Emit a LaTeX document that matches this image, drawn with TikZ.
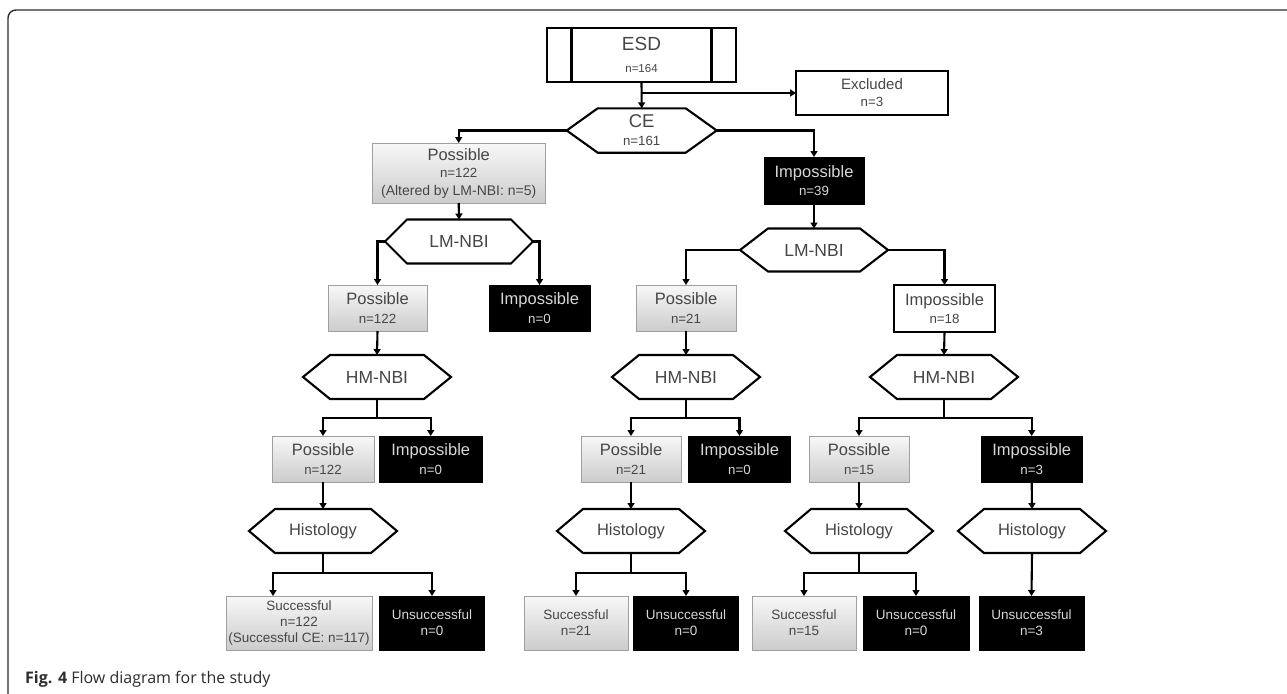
\documentclass[tikz,border=0pt]{standalone}
\usepackage{fontspec}
\setmainfont{Liberation Sans}
\newfontfamily\capfont{Open Sans}
\usetikzlibrary{arrows.meta,calc}
\definecolor{txt}{RGB}{70,70,70}
\definecolor{frm}{RGB}{45,45,45}
\definecolor{ltxt}{RGB}{215,215,215}
\tikzset{
 conn/.style={line width=2.1pt, draw=black},
 arr/.style={conn, -{Triangle[length=6pt,width=7pt]}},
 boxbase/.style={align=center, inner sep=1pt, outer sep=0pt, font=\fontsize{13.3}{18.5}\selectfont},
 graybox/.style={boxbase, draw=gray!75, line width=1pt, top color=gray!6, bottom color=gray!40, text=txt},
 blackbox/.style={boxbase, draw=black, line width=1pt, fill=black, text=ltxt},
 whitebox/.style={boxbase, draw=black, line width=2.1pt, fill=white, text=txt},
 hexbox/.style={align=center, text=txt, inner sep=0pt, outer sep=0pt, font=\fontsize{13.3}{18}\selectfont},
 hexline/.style={line width=2.1pt, draw=black},
 small/.style={font=\fontsize{13.5}{16}\selectfont},
}
\newcommand\Tl[1]{{\fontsize{16.5}{18.5}\selectfont #1}}
\newcommand\bx[6]{\node[#1, minimum width=#4pt, minimum height=#5pt] (#2) at (#3) {#6};}
\newcommand\hexnode[6]{%
 \node[hexbox, minimum width={2*#3pt}, minimum height={2*#4pt}] (#1) at (#2) {#6};
 \draw[hexline] (#1.west) -- ($(#1.north west)+(#5,0)$) -- ($(#1.north east)-(#5,0)$) -- (#1.east) -- ($(#1.south east)-(#5,0)$) -- ($(#1.south west)+(#5,0)$) -- cycle;}
\begin{document}
\begin{tikzpicture}[x=1pt,y=-1pt]
\useasboundingbox (0,0) rectangle (1287,693);
\fill[white] (0,0) rectangle (1287,693);
\draw[frm, line width=1.4pt, rounded corners=8pt] (8,700) -- (8,10) -- (1295,10);

% top
\bx{whitebox,font=\fontsize{11.5}{22}\selectfont}{esd}{641.5,55}{189}{54}{{\fontsize{19}{22}\selectfont ESD}\\n=164}
\draw[line width=2.1pt] ($(esd.north west)+(24.5,0)$) -- ($(esd.south west)+(24.5,0)$);
\draw[line width=2.1pt] ($(esd.north east)-(24.5,0)$) -- ($(esd.south east)-(24.5,0)$);
\bx{whitebox,font=\fontsize{13.3}{17}\selectfont}{excl}{872,93}{152}{44}{{\fontsize{15}{17}\selectfont Excluded}\\n=3}
\hexnode{ce}{641.7,130.5}{75}{22.2}{31}{{\fontsize{18.5}{18}\selectfont CE}\\n=161}
\coordinate (j0) at (esd.south |- excl.west);
\draw[arr] (esd.south) -- (ce.north);
\draw[arr] (j0) -- (excl.west);

% CE outcomes
\bx{graybox,font=\fontsize{13.3}{17.5}\selectfont}{p1}{458.7,173}{173}{60}{{\fontsize{16.5}{17.5}\selectfont Possible}\\n=122\\{\fontsize{14}{17.5}\selectfont (Altered by LM-NBI: n=5)}}
\bx{blackbox}{i1}{814,180.5}{100}{47}{\Tl{Impossible}\\n=39}
\draw[arr] (ce.west) -| (p1.north);
\draw[arr] (ce.east) -| (i1.north);

% LM-NBI
\hexnode{lm1}{459,241.5}{74}{22}{22}{{\fontsize{17.5}{19}\selectfont LM-NBI}}
\hexnode{lm2}{814,250}{74}{21.5}{28}{{\fontsize{17.5}{19}\selectfont LM-NBI}}
\draw[arr] (p1.south) -- (lm1.north);
\draw[arr] (i1.south) -- (lm2.north);

\bx{graybox}{pA}{377.5,308}{99}{46}{\Tl{Possible}\\n=122}
\bx{blackbox}{iA}{539.5,308}{101}{46}{\Tl{Impossible}\\n=0}
\bx{graybox}{pB}{686,308}{100}{46}{\Tl{Possible}\\n=21}
\bx{whitebox}{iB}{944.5,308.5}{101}{47}{\Tl{Impossible}\\n=18}
\draw[arr] (lm1.west) -| (pA.north);
\draw[arr] (lm1.east) -| (iA.north);
\draw[arr] (lm2.west) -| (pB.north);
\draw[arr] (lm2.east) -| (iB.north);

% HM-NBI
\hexnode{hm1}{377,377}{74}{22}{27}{{\fontsize{17.5}{19}\selectfont HM-NBI}}
\hexnode{hm2}{686,377}{74}{22}{27}{{\fontsize{17.5}{19}\selectfont HM-NBI}}
\hexnode{hm3}{944,377}{74}{22}{27}{{\fontsize{17.5}{19}\selectfont HM-NBI}}
\draw[arr] (pA.south) -- (hm1.north);
\draw[arr] (pB.south) -- (hm2.north);
\draw[arr] (iB.south) -- (hm3.north);

\bx{graybox}{pC}{323,459}{102}{46}{\Tl{Possible}\\n=122}
\bx{blackbox}{iC}{430.7,459}{103}{46}{\Tl{Impossible}\\n=0}
\bx{graybox}{pD}{631,459}{100}{46}{\Tl{Possible}\\n=21}
\bx{blackbox}{iD}{739.5,459}{102}{46}{\Tl{Impossible}\\n=0}
\bx{graybox}{pE}{859,459}{100}{46}{\Tl{Possible}\\n=15}
\bx{blackbox}{iE}{1031.7,459}{101}{46}{\Tl{Impossible}\\n=3}

\coordinate (k1) at ($(hm1.south)+(0,19)$);
\coordinate (k2) at ($(hm2.south)+(0,19)$);
\coordinate (k3) at ($(hm3.south)+(0,19)$);
\draw[conn] (hm1.south) -- (k1);
\draw[conn] (hm2.south) -- (k2);
\draw[conn] (hm3.south) -- (k3);
\draw[arr] (k1) -| (pC.north);
\draw[arr] (k1) -| (iC.north);
\draw[arr] (k2) -| (pD.north);
\draw[arr] (k2) -| (iD.north);
\draw[arr] (k3) -| (pE.north);
\draw[arr] (k3) -| (iE.north);

% Histology
\hexnode{h1}{323,531}{74}{22}{26}{{\fontsize{16.5}{19}\selectfont Histology}}
\hexnode{h2}{631,531}{74}{22}{26}{{\fontsize{16.5}{19}\selectfont Histology}}
\hexnode{h3}{859,531}{74}{22}{26}{{\fontsize{16.5}{19}\selectfont Histology}}
\hexnode{h4}{1032,531}{74}{22}{26}{{\fontsize{16.5}{19}\selectfont Histology}}
\draw[arr] (pC.south) -- (h1.north);
\draw[arr] (pD.south) -- (h2.north);
\draw[arr] (pE.south) -- (h3.north);
\draw[arr] (iE.south) -- (h4.north);

\bx{graybox,small}{s1}{299,623}{146}{54}{Successful\\n=122\\(Successful CE: n=117)}
\bx{blackbox,small}{u1}{432,623}{105}{54}{Unsuccessful\\n=0}
\bx{graybox,small}{s2}{576,623}{104}{54}{Successful\\n=21}
\bx{blackbox,small}{u2}{686,623}{105}{54}{Unsuccessful\\n=0}
\bx{graybox,small}{s3}{804,623}{104}{54}{Successful\\n=15}
\bx{blackbox,small}{u3}{916,623}{106}{54}{Unsuccessful\\n=0}
\bx{blackbox,small}{u4}{1031.5,623}{105}{54}{Unsuccessful\\n=3}

\coordinate (m1) at ($(h1.south)+(0,20)$);
\coordinate (m2) at ($(h2.south)+(0,20)$);
\coordinate (m3) at ($(h3.south)+(0,20)$);
\draw[conn] (h1.south) -- (m1);
\draw[conn] (h2.south) -- (m2);
\draw[conn] (h3.south) -- (m3);
\draw[arr] (m1) -| ($(s1.north)+(-26,0)$);
\draw[arr] (m1) -| (u1.north);
\draw[arr] (m2) -| (s2.north);
\draw[arr] (m2) -| (u2.north);
\draw[arr] (m3) -| (s3.north);
\draw[arr] (m3) -| (u3.north);
\draw[arr] (h4.south) -- (u4.north);

% caption
\node[anchor=base west, inner sep=0pt, text=frm, font=\capfont\fontsize{16}{19}\selectfont] (cap) at (25,683) {\textbf{Fig. 4} Flow diagram for the study};
\end{tikzpicture}
\end{document}
